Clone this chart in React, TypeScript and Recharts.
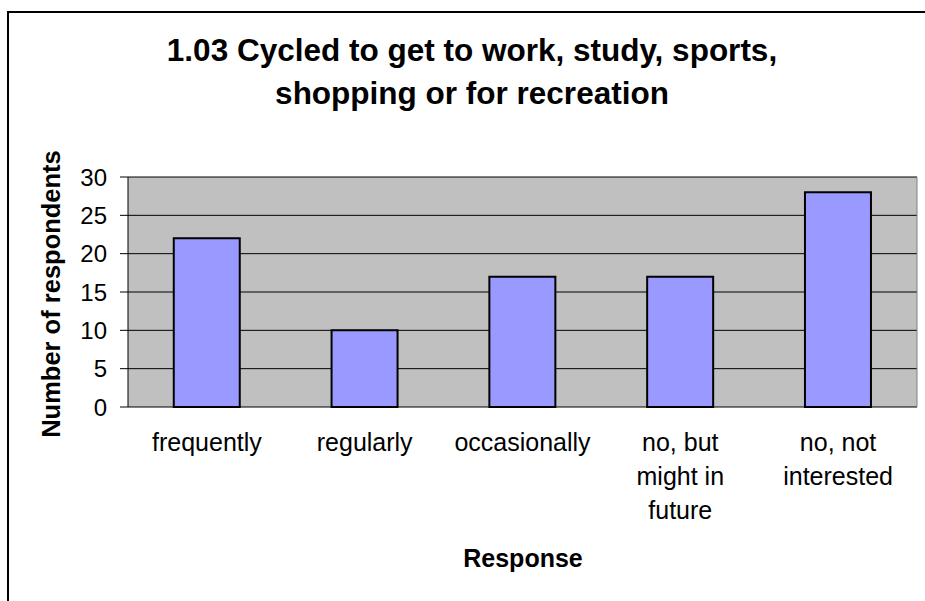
import React from 'react';
import { BarChart, Bar, XAxis, YAxis, CartesianGrid } from 'recharts';

const categories = ['frequently', 'regularly', 'occasionally', 'no, but might in future', 'no, not interested'];
const tickLines = [['frequently'], ['regularly'], ['occasionally'], ['no, but', 'might in', 'future'], ['no, not', 'interested']];
const respondents = [22, 10, 17, 17, 28];
const yTicks = [0, 5, 10, 15, 20, 25, 30];
const edgeTicks = [0, 1, 2, 3, 4, 5];
const titleLines = ['1.03 Cycled to get to work, study, sports,', 'shopping or for recreation'];

const FONT = '"Liberation Sans", Arial, sans-serif';

const data = categories.map((name, i) => ({ name, value: respondents[i] }));

const CategoryTick = (props: any) => {
  const { x, y, index } = props;
  const lines = tickLines[index] || [String(props.payload.value)];
  return (
    <text x={x} y={y} textAnchor="middle" fill="#000" fontSize={25} fontFamily={FONT}>
      {lines.map((line, i) => (
        <tspan key={i} x={x} dy={i === 0 ? 19 : 34}>
          {line}
        </tspan>
      ))}
    </text>
  );
};

const YLabel = () => (
  <text
    x={60}
    y={294}
    transform="rotate(-90 60 294)"
    textAnchor="middle"
    fill="#000"
    fontSize={25.5}
    fontWeight="bold"
    fontFamily={FONT}
  >
    Number of respondents
  </text>
);

export default function App() {
  return (
    <div style={{ position: 'absolute', left: 0, top: 0, width: 925, height: 601, overflow: 'hidden', background: '#fff' }}>
      <div
        style={{
          position: 'absolute',
          left: 7,
          top: 11,
          width: 1000,
          height: 700,
          borderTop: '2px solid #000',
          borderLeft: '2px solid #000',
        }}
      />
      <div
        style={{
          position: 'absolute',
          left: 122,
          top: 29,
          width: 700,
          textAlign: 'center',
          fontFamily: FONT,
          fontWeight: 'bold',
          fontSize: 31.5,
          lineHeight: '43px',
          color: '#000',
        }}
      >
        {titleLines.map((t, i) => (
          <div key={i}>{t}</div>
        ))}
      </div>
      <div
        style={{
          position: 'absolute',
          left: 423,
          top: 546,
          width: 200,
          textAlign: 'center',
          fontFamily: FONT,
          fontWeight: 'bold',
          fontSize: 25,
          lineHeight: '25px',
          color: '#000',
        }}
      >
        Response
      </div>
      <div style={{ position: 'absolute', left: 0, top: 0 }}>
        <BarChart
          width={925}
          height={601}
          data={data}
          margin={{ top: 177, right: 8, bottom: 44, left: 8 }}
          barCategoryGap="29%"
        >
          <CartesianGrid vertical={false} fill="#C0C0C0" stroke="#000" strokeOpacity={1} />
          <CartesianGrid
            horizontal={false}
            stroke="#808080"
            verticalCoordinatesGenerator={({ offset }: any) => [offset.left + offset.width]}
          />
          <XAxis
            xAxisId="edges"
            type="number"
            domain={[0, 5]}
            ticks={edgeTicks}
            height={0}
            tickSize={8}
            tick={() => <g />}
            axisLine={{ stroke: '#000' }}
            tickLine={{ stroke: '#000' }}
          />
          <XAxis
            dataKey="name"
            height={150}
            axisLine={false}
            tickLine={false}
            tickMargin={19}
            interval={0}
            tick={<CategoryTick />}
          />
          <YAxis
            width={120}
            domain={[0, 30]}
            ticks={yTicks}
            interval={0}
            tickSize={8}
            tickMargin={13}
            axisLine={{ stroke: '#000' }}
            tickLine={{ stroke: '#000' }}
            tick={{ fill: '#000', fontSize: 24, fontFamily: FONT }}
            label={<YLabel />}
          />
          <Bar dataKey="value" fill="#9999FF" stroke="#000" strokeWidth={2} isAnimationActive={false} />
        </BarChart>
      </div>
    </div>
  );
}
